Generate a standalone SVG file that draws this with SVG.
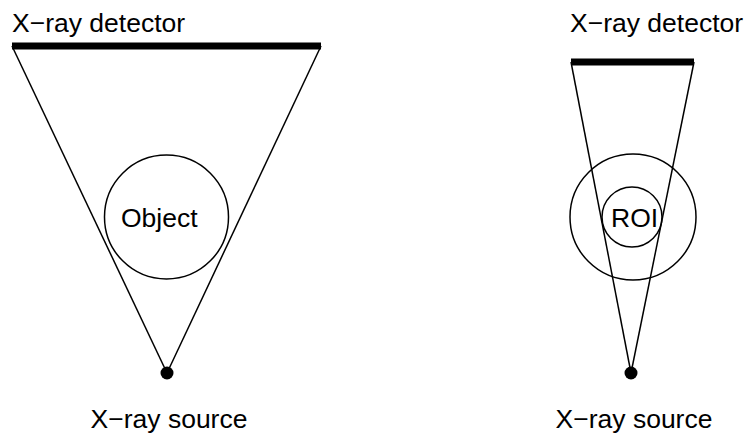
<svg xmlns="http://www.w3.org/2000/svg" width="750" height="433" viewBox="0 0 750 433">
<style>
.t{font-family:"Liberation Sans",Arial,sans-serif;font-size:26.5px;fill:#000}
.ray{stroke:#000;stroke-width:1.5;fill:none}
.det{stroke:#000;stroke-width:7;fill:none}
.c{stroke:#000;stroke-width:1.5;fill:none}
</style>
<rect width="750" height="433" fill="#fff"/>
<g id="connectors">
<line class="ray" x1="12" y1="46" x2="167" y2="373"/>
<line class="ray" x1="321" y1="46" x2="167" y2="373"/>
<line class="ray" x1="571" y1="62" x2="631" y2="373"/>
<line class="ray" x1="694" y1="62" x2="631" y2="373"/>
</g>
<g id="detector-left">
<line class="det" x1="12" y1="46" x2="321" y2="46"/>
<text class="t" x="12" y="32">X−ray detector</text>
</g>
<g id="object">
<circle class="c" cx="166.5" cy="217" r="62"/>
<text class="t" x="121" y="226.5">Object</text>
</g>
<g id="source-left">
<circle cx="167" cy="373" r="6.5" fill="#000"/>
<text class="t" x="169" y="428" text-anchor="middle">X−ray source</text>
</g>
<g id="detector-right">
<line class="det" x1="571" y1="62" x2="694" y2="62"/>
<text class="t" x="570" y="32">X−ray detector</text>
</g>
<g id="roi-outer">
<circle class="c" cx="633" cy="217" r="63"/>
</g>
<g id="roi">
<circle class="c" cx="632" cy="217" r="30"/>
<text class="t" x="611" y="226.5">ROI</text>
</g>
<g id="source-right">
<circle cx="631" cy="373" r="6.5" fill="#000"/>
<text class="t" x="634" y="428" text-anchor="middle">X−ray source</text>
</g>
</svg>
